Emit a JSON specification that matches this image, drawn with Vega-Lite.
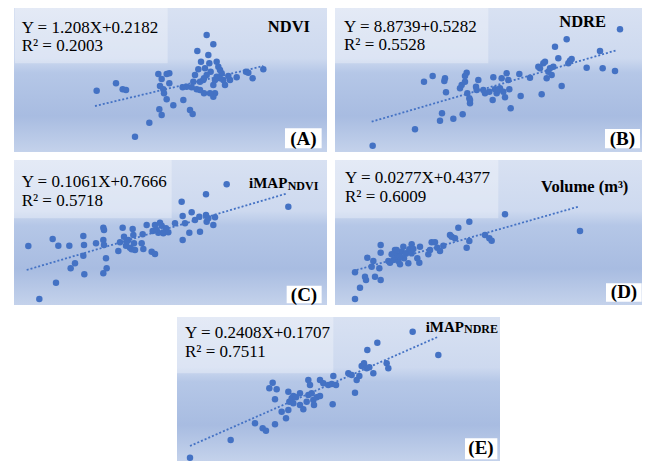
{
"$schema": "https://vega.github.io/schema/vega-lite/v6.json",
"padding": {"left": 14, "top": 8, "right": 0, "bottom": 0},
"background": "#ffffff",
"config": {"view": {"stroke": null}, "axis": {"disable": true}, "text": {"font": "Liberation Serif", "color": "#000000"}},
"vconcat": [
{"vconcat": [
 {"hconcat": [
  {"width": 313, "height": 144,
   "layer": [
    {"data": {"values": [{}]}, "mark": {"type": "rect", "color": {"gradient": "linear", "x1": 0, "y1": 0, "x2": 0, "y2": 1, "stops": [{"offset": 0, "color": "#d8e1f2"}, {"offset": 0.35, "color": "#cdd9ef"}, {"offset": 0.45, "color": "#b5c7e7"}, {"offset": 0.75, "color": "#a8bce1"}, {"offset": 1, "color": "#c4d2eb"}]}}, "encoding": {}},
    {"data": {"values": [{}]}, "mark": {"type": "rect", "color": "#ffffff", "opacity": 0.3},
     "encoding": {"x": {"datum": 4.5, "type": "quantitative", "scale": {"domain": [4.2, 98.1], "nice": false, "zero": false}, "axis": null}, "x2": {"datum": 50.3}, "y": {"datum": 44.6, "type": "quantitative", "scale": {"domain": [1.4, 44.6], "nice": false, "zero": false}, "axis": null}, "y2": {"datum": 28.0}}},
    {"data": {"values": [{"x":29.0,"y":19.8},{"x":34.8,"y":22.0},{"x":36.8,"y":20.2},{"x":37.8,"y":20.0},{"x":40.5,"y":6.0},{"x":44.8,"y":10.2},{"x":47.8,"y":14.2},{"x":48.5,"y":12.5},{"x":52.0,"y":15.4},{"x":47.5,"y":24.8},{"x":48.5,"y":23.3},{"x":50.0,"y":24.8},{"x":50.8,"y":25.0},{"x":48.0,"y":21.2},{"x":49.0,"y":20.2},{"x":49.2,"y":19.0},{"x":50.0,"y":17.2},{"x":50.8,"y":22.0},{"x":55.0,"y":17.0},{"x":56.0,"y":21.0},{"x":54.8,"y":20.8},{"x":57.0,"y":14.0},{"x":57.8,"y":12.8},{"x":57.5,"y":20.8},{"x":58.0,"y":22.5},{"x":59.0,"y":20.2},{"x":59.2,"y":31.7},{"x":59.5,"y":26.2},{"x":60.3,"y":28.5},{"x":60.0,"y":22.5},{"x":61.0,"y":23.0},{"x":61.2,"y":19.0},{"x":62.0,"y":36.5},{"x":62.5,"y":30.5},{"x":64.0,"y":33.7},{"x":62.8,"y":28.0},{"x":63.2,"y":25.5},{"x":64.0,"y":21.5},{"x":64.5,"y":19.0},{"x":64.0,"y":18.0},{"x":65.0,"y":28.5},{"x":65.5,"y":27.0},{"x":65.0,"y":24.0},{"x":66.0,"y":26.0},{"x":66.5,"y":25.0},{"x":67.0,"y":23.0},{"x":67.5,"y":21.5},{"x":66.0,"y":23.5},{"x":62.0,"y":24.5},{"x":61.5,"y":26.5},{"x":61.2,"y":23.5},{"x":69.0,"y":23.0},{"x":71.0,"y":23.8},{"x":73.8,"y":25.5},{"x":74.5,"y":25.2},{"x":75.8,"y":23.5},{"x":79.0,"y":26.2},{"x":58.5,"y":24.5},{"x":63.0,"y":19.0},{"x":60.0,"y":20.0},{"x":64.5,"y":23.0},{"x":68.5,"y":24.2}]},
     "mark": {"type": "circle", "size": 42, "color": "#4472c4", "opacity": 1},
     "encoding": {"x": {"field": "x", "type": "quantitative"}, "y": {"field": "y", "type": "quantitative"}}},
    {"data": {"values": [{"x": 28.5, "y": 15.2}, {"x": 79.0, "y": 27.2}]}, "mark": {"type": "line", "color": "#4472c4", "strokeDash": [2, 2], "strokeWidth": 1.8},
     "encoding": {"x": {"field": "x", "type": "quantitative"}, "y": {"field": "y", "type": "quantitative"}}},
    {"data": {"values": [{}]}, "mark": {"type": "text", "text": "Y = 1.208X+0.2182", "align": "left", "baseline": "alphabetic", "fontSize": 17}, "encoding": {"x": {"datum": 6.5}, "y": {"datum": 37.2}}},
    {"data": {"values": [{}]}, "mark": {"type": "text", "text": "R² = 0.2003", "align": "left", "baseline": "alphabetic", "fontSize": 17}, "encoding": {"x": {"datum": 6.5}, "y": {"datum": 31.6}}},
    {"data": {"values": [{}]}, "mark": {"type": "text", "text": "NDVI", "align": "right", "baseline": "alphabetic", "fontSize": 16.5, "fontWeight": "bold"}, "encoding": {"x": {"datum": 93.0}, "y": {"datum": 37.5}}},
    {"data": {"values": [{}]}, "mark": {"type": "rect", "color": "#ffffff", "opacity": 1}, "encoding": {"x": {"datum": 85.5}, "x2": {"datum": 96.5}, "y": {"datum": 8.5}, "y2": {"datum": 2.5}}},
    {"data": {"values": [{}]}, "mark": {"type": "text", "text": "(A)", "align": "center", "baseline": "middle", "fontSize": 19, "fontWeight": "bold"}, "encoding": {"x": {"datum": 91.0}, "y": {"datum": 5.4}}}
   ]},
  {"width": 307, "height": 144,
   "layer": [
    {"data": {"values": [{}]}, "mark": {"type": "rect", "color": {"gradient": "linear", "x1": 0, "y1": 0, "x2": 0, "y2": 1, "stops": [{"offset": 0, "color": "#d8e1f2"}, {"offset": 0.35, "color": "#cdd9ef"}, {"offset": 0.45, "color": "#b5c7e7"}, {"offset": 0.75, "color": "#a8bce1"}, {"offset": 1, "color": "#c4d2eb"}]}}, "encoding": {}},
    {"data": {"values": [{}]}, "mark": {"type": "rect", "color": "#ffffff", "opacity": 0.3},
     "encoding": {"x": {"datum": 1.5, "type": "quantitative", "scale": {"domain": [1.5, 93.6], "nice": false, "zero": false}, "axis": null}, "x2": {"datum": 47.5}, "y": {"datum": 44.6, "type": "quantitative", "scale": {"domain": [1.4, 44.6], "nice": false, "zero": false}, "axis": null}, "y2": {"datum": 28.0}}},
    {"data": {"values": [{"x":12.8,"y":3.3},{"x":25.5,"y":8.2},{"x":28.2,"y":22.5},{"x":30.8,"y":24.2},{"x":33.0,"y":10.8},{"x":33.6,"y":13.0},{"x":34.5,"y":23.5},{"x":34.3,"y":22.7},{"x":34.8,"y":19.3},{"x":37.0,"y":11.4},{"x":39.0,"y":20.5},{"x":39.5,"y":21.5},{"x":39.8,"y":12.7},{"x":40.5,"y":22.5},{"x":41.0,"y":25.2},{"x":40.5,"y":24.2},{"x":41.2,"y":19.0},{"x":41.8,"y":17.5},{"x":42.0,"y":16.0},{"x":42.0,"y":17.0},{"x":43.8,"y":21.0},{"x":44.0,"y":20.0},{"x":44.5,"y":23.0},{"x":46.5,"y":19.0},{"x":47.8,"y":19.5},{"x":48.8,"y":17.0},{"x":49.0,"y":23.8},{"x":49.5,"y":20.2},{"x":50.0,"y":19.0},{"x":51.0,"y":20.5},{"x":51.5,"y":23.5},{"x":52.0,"y":19.5},{"x":52.5,"y":17.8},{"x":53.0,"y":25.0},{"x":53.5,"y":23.0},{"x":53.8,"y":20.2},{"x":54.2,"y":14.5},{"x":56.8,"y":24.8},{"x":57.2,"y":18.2},{"x":60.0,"y":23.7},{"x":63.5,"y":18.7},{"x":63.0,"y":26.5},{"x":64.0,"y":28.0},{"x":64.5,"y":28.5},{"x":65.0,"y":23.5},{"x":65.5,"y":25.5},{"x":66.0,"y":26.5},{"x":66.5,"y":24.5},{"x":67.0,"y":27.0},{"x":67.5,"y":33.0},{"x":68.5,"y":29.5},{"x":69.5,"y":21.2},{"x":71.0,"y":35.2},{"x":71.5,"y":28.0},{"x":72.0,"y":28.8},{"x":72.5,"y":29.3},{"x":77.0,"y":26.7},{"x":81.0,"y":31.7},{"x":81.8,"y":26.5},{"x":85.5,"y":25.7},{"x":87.0,"y":38.2},{"x":50.5,"y":20.0},{"x":46.0,"y":20.0},{"x":62.5,"y":27.0}]},
     "mark": {"type": "circle", "size": 42, "color": "#4472c4", "opacity": 1},
     "encoding": {"x": {"field": "x", "type": "quantitative"}, "y": {"field": "y", "type": "quantitative"}}},
    {"data": {"values": [{"x": 12.5, "y": 10.5}, {"x": 86.2, "y": 32.0}]}, "mark": {"type": "line", "color": "#4472c4", "strokeDash": [2, 2], "strokeWidth": 1.8},
     "encoding": {"x": {"field": "x", "type": "quantitative"}, "y": {"field": "y", "type": "quantitative"}}},
    {"data": {"values": [{}]}, "mark": {"type": "text", "text": "Y = 8.8739+0.5282", "align": "left", "baseline": "alphabetic", "fontSize": 17}, "encoding": {"x": {"datum": 4.2}, "y": {"datum": 37.5}}},
    {"data": {"values": [{}]}, "mark": {"type": "text", "text": "R² = 0.5528", "align": "left", "baseline": "alphabetic", "fontSize": 17}, "encoding": {"x": {"datum": 4.2}, "y": {"datum": 31.9}}},
    {"data": {"values": [{}]}, "mark": {"type": "text", "text": "NDRE", "align": "right", "baseline": "alphabetic", "fontSize": 16.5, "fontWeight": "bold"}, "encoding": {"x": {"datum": 82.8}, "y": {"datum": 39.0}}},
    {"data": {"values": [{}]}, "mark": {"type": "rect", "color": "#ffffff", "opacity": 1}, "encoding": {"x": {"datum": 82.5}, "x2": {"datum": 93.0}, "y": {"datum": 8.3}, "y2": {"datum": 2.5}}},
    {"data": {"values": [{}]}, "mark": {"type": "text", "text": "(B)", "align": "center", "baseline": "middle", "fontSize": 19, "fontWeight": "bold"}, "encoding": {"x": {"datum": 87.7}, "y": {"datum": 5.4}}}
   ]}
 ], "spacing": 8, "resolve": {"scale": {"x": "independent", "y": "independent"}}},
 {"hconcat": [
  {"width": 313, "height": 145,
   "layer": [
    {"data": {"values": [{}]}, "mark": {"type": "rect", "color": {"gradient": "linear", "x1": 0, "y1": 0, "x2": 0, "y2": 1, "stops": [{"offset": 0, "color": "#d8e1f2"}, {"offset": 0.35, "color": "#cdd9ef"}, {"offset": 0.45, "color": "#b5c7e7"}, {"offset": 0.75, "color": "#a8bce1"}, {"offset": 1, "color": "#c4d2eb"}]}}, "encoding": {}},
    {"data": {"values": [{}]}, "mark": {"type": "rect", "color": "#ffffff", "opacity": 0.3},
     "encoding": {"x": {"datum": 4.2, "type": "quantitative", "scale": {"domain": [4.2, 98.1], "nice": false, "zero": false}, "axis": null}, "x2": {"datum": 51.5}, "y": {"datum": 45.5, "type": "quantitative", "scale": {"domain": [2.0, 45.5], "nice": false, "zero": false}, "axis": null}, "y2": {"datum": 28.0}}},
    {"data": {"values": [{"x":8.5,"y":19.7},{"x":11.8,"y":3.8},{"x":15.8,"y":21.8},{"x":16.8,"y":8.7},{"x":17.5,"y":19.8},{"x":20.8,"y":19.8},{"x":21.2,"y":13.0},{"x":22.5,"y":14.5},{"x":25.0,"y":22.7},{"x":25.2,"y":20.0},{"x":25.0,"y":16.8},{"x":25.3,"y":11.2},{"x":28.8,"y":20.5},{"x":31.0,"y":25.2},{"x":31.2,"y":24.5},{"x":31.0,"y":21.5},{"x":31.2,"y":20.0},{"x":31.8,"y":16.0},{"x":32.0,"y":13.0},{"x":31.0,"y":11.5},{"x":35.5,"y":18.2},{"x":36.0,"y":20.8},{"x":36.8,"y":25.2},{"x":37.2,"y":22.5},{"x":37.8,"y":19.8},{"x":38.5,"y":21.5},{"x":39.0,"y":19.2},{"x":39.5,"y":18.7},{"x":39.8,"y":24.8},{"x":40.0,"y":23.0},{"x":40.2,"y":20.5},{"x":40.5,"y":18.5},{"x":42.5,"y":20.5},{"x":42.8,"y":23.2},{"x":43.0,"y":18.8},{"x":44.0,"y":26.0},{"x":45.5,"y":18.0},{"x":46.5,"y":17.3},{"x":45.8,"y":24.2},{"x":46.5,"y":26.0},{"x":47.5,"y":23.7},{"x":48.0,"y":26.7},{"x":48.5,"y":25.8},{"x":49.0,"y":23.5},{"x":49.8,"y":25.0},{"x":50.5,"y":23.8},{"x":52.5,"y":26.5},{"x":54.5,"y":33.0},{"x":54.8,"y":28.7},{"x":54.8,"y":21.5},{"x":55.5,"y":26.5},{"x":56.8,"y":23.7},{"x":57.5,"y":29.8},{"x":58.5,"y":27.5},{"x":59.8,"y":28.5},{"x":60.0,"y":24.0},{"x":61.8,"y":35.2},{"x":61.8,"y":29.0},{"x":62.0,"y":27.0},{"x":62.5,"y":28.0},{"x":64.0,"y":26.0},{"x":64.5,"y":28.3},{"x":68.0,"y":38.2},{"x":86.5,"y":31.5},{"x":38.0,"y":21.0},{"x":47.0,"y":24.5}]},
     "mark": {"type": "circle", "size": 42, "color": "#4472c4", "opacity": 1},
     "encoding": {"x": {"field": "x", "type": "quantitative"}, "y": {"field": "y", "type": "quantitative"}}},
    {"data": {"values": [{"x": 8.0, "y": 12.5}, {"x": 86.2, "y": 35.5}]}, "mark": {"type": "line", "color": "#4472c4", "strokeDash": [2, 2], "strokeWidth": 1.8},
     "encoding": {"x": {"field": "x", "type": "quantitative"}, "y": {"field": "y", "type": "quantitative"}}},
    {"data": {"values": [{}]}, "mark": {"type": "text", "text": "Y = 0.1061X+0.7666", "align": "left", "baseline": "alphabetic", "fontSize": 17}, "encoding": {"x": {"datum": 6.5}, "y": {"datum": 37.3}}},
    {"data": {"values": [{}]}, "mark": {"type": "text", "text": "R² = 0.5718", "align": "left", "baseline": "alphabetic", "fontSize": 17}, "encoding": {"x": {"datum": 6.5}, "y": {"datum": 31.7}}},
    {"data": {"values": [{}]}, "mark": {"type": "text", "text": "NDVI", "align": "right", "baseline": "alphabetic", "fontSize": 12, "fontWeight": "bold"}, "encoding": {"x": {"datum": 95.5}, "y": {"datum": 36.6}}},
    {"data": {"values": [{}]}, "mark": {"type": "text", "text": "iMAP", "align": "right", "baseline": "alphabetic", "fontSize": 15, "fontWeight": "bold", "dx": -31}, "encoding": {"x": {"datum": 95.5}, "y": {"datum": 37.0}}},
    {"data": {"values": [{}]}, "mark": {"type": "rect", "color": "#ffffff", "opacity": 1}, "encoding": {"x": {"datum": 86.0}, "x2": {"datum": 96.5}, "y": {"datum": 7.8}, "y2": {"datum": 2.5}}},
    {"data": {"values": [{}]}, "mark": {"type": "text", "text": "(C)", "align": "center", "baseline": "middle", "fontSize": 19, "fontWeight": "bold"}, "encoding": {"x": {"datum": 91.2}, "y": {"datum": 5.1}}}
   ]},
  {"width": 307, "height": 145,
   "layer": [
    {"data": {"values": [{}]}, "mark": {"type": "rect", "color": {"gradient": "linear", "x1": 0, "y1": 0, "x2": 0, "y2": 1, "stops": [{"offset": 0, "color": "#d8e1f2"}, {"offset": 0.35, "color": "#cdd9ef"}, {"offset": 0.45, "color": "#b5c7e7"}, {"offset": 0.75, "color": "#a8bce1"}, {"offset": 1, "color": "#c4d2eb"}]}}, "encoding": {}},
    {"data": {"values": [{}]}, "mark": {"type": "rect", "color": "#ffffff", "opacity": 0.3},
     "encoding": {"x": {"datum": 1.5, "type": "quantitative", "scale": {"domain": [1.5, 93.6], "nice": false, "zero": false}, "axis": null}, "x2": {"datum": 50.5}, "y": {"datum": 45.5, "type": "quantitative", "scale": {"domain": [2.0, 45.5], "nice": false, "zero": false}, "axis": null}, "y2": {"datum": 28.0}}},
    {"data": {"values": [{"x":7.5,"y":3.8},{"x":9.0,"y":7.2},{"x":7.5,"y":11.8},{"x":10.5,"y":10.5},{"x":10.8,"y":9.5},{"x":11.2,"y":16.2},{"x":12.5,"y":13.5},{"x":13.0,"y":15.2},{"x":13.5,"y":10.5},{"x":14.8,"y":13.0},{"x":15.2,"y":9.5},{"x":15.2,"y":17.7},{"x":15.2,"y":20.0},{"x":17.5,"y":15.2},{"x":18.0,"y":14.7},{"x":19.0,"y":15.5},{"x":19.5,"y":18.5},{"x":20.0,"y":17.0},{"x":20.5,"y":15.2},{"x":21.0,"y":14.2},{"x":21.5,"y":18.0},{"x":22.0,"y":19.5},{"x":22.2,"y":16.0},{"x":22.8,"y":17.5},{"x":23.5,"y":14.5},{"x":23.8,"y":18.7},{"x":24.5,"y":20.2},{"x":24.5,"y":17.5},{"x":25.0,"y":18.8},{"x":26.2,"y":16.0},{"x":26.8,"y":14.7},{"x":27.0,"y":19.5},{"x":29.5,"y":17.2},{"x":30.0,"y":18.5},{"x":30.5,"y":20.8},{"x":31.5,"y":20.8},{"x":32.2,"y":19.2},{"x":33.0,"y":18.2},{"x":34.0,"y":19.8},{"x":36.0,"y":23.0},{"x":36.5,"y":22.5},{"x":37.5,"y":22.0},{"x":38.5,"y":25.2},{"x":41.0,"y":19.2},{"x":41.8,"y":21.2},{"x":41.8,"y":27.0},{"x":46.5,"y":23.0},{"x":47.8,"y":22.0},{"x":48.5,"y":21.3},{"x":52.5,"y":29.2},{"x":75.0,"y":24.2},{"x":21.0,"y":16.5},{"x":18.5,"y":17.2},{"x":20.0,"y":18.5}]},
     "mark": {"type": "circle", "size": 42, "color": "#4472c4", "opacity": 1},
     "encoding": {"x": {"field": "x", "type": "quantitative"}, "y": {"field": "y", "type": "quantitative"}}},
    {"data": {"values": [{"x": 8.0, "y": 12.5}, {"x": 74.5, "y": 31.5}]}, "mark": {"type": "line", "color": "#4472c4", "strokeDash": [2, 2], "strokeWidth": 1.8},
     "encoding": {"x": {"field": "x", "type": "quantitative"}, "y": {"field": "y", "type": "quantitative"}}},
    {"data": {"values": [{}]}, "mark": {"type": "text", "text": "Y = 0.0277X+0.4377", "align": "left", "baseline": "alphabetic", "fontSize": 17}, "encoding": {"x": {"datum": 4.5}, "y": {"datum": 38.5}}},
    {"data": {"values": [{}]}, "mark": {"type": "text", "text": "R² = 0.6009", "align": "left", "baseline": "alphabetic", "fontSize": 17}, "encoding": {"x": {"datum": 4.5}, "y": {"datum": 32.9}}},
    {"data": {"values": [{}]}, "mark": {"type": "text", "text": "Volume (m³)", "align": "right", "baseline": "alphabetic", "fontSize": 16.5, "fontWeight": "bold"}, "encoding": {"x": {"datum": 89.5}, "y": {"datum": 36.0}}},
    {"data": {"values": [{}]}, "mark": {"type": "rect", "color": "#ffffff", "opacity": 1}, "encoding": {"x": {"datum": 82.8}, "x2": {"datum": 93.5}, "y": {"datum": 8.5}, "y2": {"datum": 3.0}}},
    {"data": {"values": [{}]}, "mark": {"type": "text", "text": "(D)", "align": "center", "baseline": "middle", "fontSize": 19, "fontWeight": "bold"}, "encoding": {"x": {"datum": 88.2}, "y": {"datum": 5.8}}}
   ]}
 ], "spacing": 8, "resolve": {"scale": {"x": "independent", "y": "independent"}}}
], "spacing": 8, "resolve": {"scale": {"x": "independent", "y": "independent"}}},
{"hconcat": [
  {"width": 155, "height": 144, "data": {"values": []}, "mark": "point"},
  {"width": 323, "height": 144,
   "layer": [
    {"data": {"values": [{}]}, "mark": {"type": "rect", "color": {"gradient": "linear", "x1": 0, "y1": 0, "x2": 0, "y2": 1, "stops": [{"offset": 0, "color": "#d8e1f2"}, {"offset": 0.35, "color": "#cdd9ef"}, {"offset": 0.45, "color": "#b5c7e7"}, {"offset": 0.75, "color": "#a8bce1"}, {"offset": 1, "color": "#c4d2eb"}]}}, "encoding": {}},
    {"data": {"values": [{}]}, "mark": {"type": "rect", "color": "#ffffff", "opacity": 0.3},
     "encoding": {"x": {"datum": 5.1, "type": "quantitative", "scale": {"domain": [5.1, 102.0], "nice": false, "zero": false}, "axis": null}, "x2": {"datum": 52.0}, "y": {"datum": 44.9, "type": "quantitative", "scale": {"domain": [1.7, 44.9], "nice": false, "zero": false}, "axis": null}, "y2": {"datum": 28.0}}},
    {"data": {"values": [{"x":9.0,"y":2.7},{"x":21.2,"y":8.0},{"x":28.5,"y":13.0},{"x":30.8,"y":11.5},{"x":31.8,"y":10.8},{"x":34.5,"y":12.7},{"x":34.5,"y":20.2},{"x":32.8,"y":23.5},{"x":33.8,"y":25.2},{"x":35.0,"y":23.2},{"x":36.5,"y":16.5},{"x":37.8,"y":14.5},{"x":38.5,"y":17.0},{"x":38.8,"y":19.5},{"x":38.5,"y":22.5},{"x":39.5,"y":20.5},{"x":40.0,"y":21.2},{"x":40.8,"y":20.8},{"x":42.0,"y":22.0},{"x":42.0,"y":18.5},{"x":43.0,"y":17.2},{"x":44.0,"y":19.5},{"x":44.5,"y":26.0},{"x":45.0,"y":24.5},{"x":45.5,"y":22.0},{"x":46.0,"y":20.0},{"x":46.2,"y":18.5},{"x":47.0,"y":20.8},{"x":48.0,"y":21.2},{"x":48.0,"y":26.0},{"x":49.0,"y":25.0},{"x":50.5,"y":24.5},{"x":51.5,"y":24.8},{"x":51.8,"y":18.7},{"x":52.0,"y":27.2},{"x":52.8,"y":24.5},{"x":56.5,"y":28.0},{"x":57.5,"y":27.5},{"x":58.5,"y":22.2},{"x":59.0,"y":26.0},{"x":59.8,"y":27.2},{"x":60.5,"y":30.2},{"x":61.2,"y":31.0},{"x":62.0,"y":29.5},{"x":62.2,"y":35.0},{"x":62.8,"y":29.8},{"x":64.0,"y":28.0},{"x":65.2,"y":37.2},{"x":68.0,"y":31.0},{"x":68.5,"y":29.5},{"x":75.8,"y":40.5},{"x":83.5,"y":33.5},{"x":44.5,"y":21.5},{"x":40.0,"y":19.0}]},
     "mark": {"type": "circle", "size": 42, "color": "#4472c4", "opacity": 1},
     "encoding": {"x": {"field": "x", "type": "quantitative"}, "y": {"field": "y", "type": "quantitative"}}},
    {"data": {"values": [{"x": 9.0, "y": 6.2}, {"x": 83.5, "y": 39.0}]}, "mark": {"type": "line", "color": "#4472c4", "strokeDash": [2, 2], "strokeWidth": 1.8},
     "encoding": {"x": {"field": "x", "type": "quantitative"}, "y": {"field": "y", "type": "quantitative"}}},
    {"data": {"values": [{}]}, "mark": {"type": "text", "text": "Y = 0.2408X+0.1707", "align": "left", "baseline": "alphabetic", "fontSize": 17}, "encoding": {"x": {"datum": 7.5}, "y": {"datum": 38.6}}},
    {"data": {"values": [{}]}, "mark": {"type": "text", "text": "R² = 0.7511", "align": "left", "baseline": "alphabetic", "fontSize": 17}, "encoding": {"x": {"datum": 7.5}, "y": {"datum": 33.0}}},
    {"data": {"values": [{}]}, "mark": {"type": "text", "text": "NDRE", "align": "right", "baseline": "alphabetic", "fontSize": 12, "fontWeight": "bold"}, "encoding": {"x": {"datum": 101.4}, "y": {"datum": 40.0}}},
    {"data": {"values": [{}]}, "mark": {"type": "text", "text": "iMAP", "align": "right", "baseline": "alphabetic", "fontSize": 15, "fontWeight": "bold", "dx": -34}, "encoding": {"x": {"datum": 101.4}, "y": {"datum": 40.4}}},
    {"data": {"values": [{}]}, "mark": {"type": "rect", "color": "#ffffff", "opacity": 1}, "encoding": {"x": {"datum": 91.5}, "x2": {"datum": 101.2}, "y": {"datum": 8.5}, "y2": {"datum": 2.2}}},
    {"data": {"values": [{}]}, "mark": {"type": "text", "text": "(E)", "align": "center", "baseline": "middle", "fontSize": 19, "fontWeight": "bold"}, "encoding": {"x": {"datum": 96.3}, "y": {"datum": 5.6}}}
   ]}
], "spacing": 8, "resolve": {"scale": {"x": "independent", "y": "independent"}}}
],
"spacing": 12,
"resolve": {"scale": {"x": "independent", "y": "independent"}}
}
